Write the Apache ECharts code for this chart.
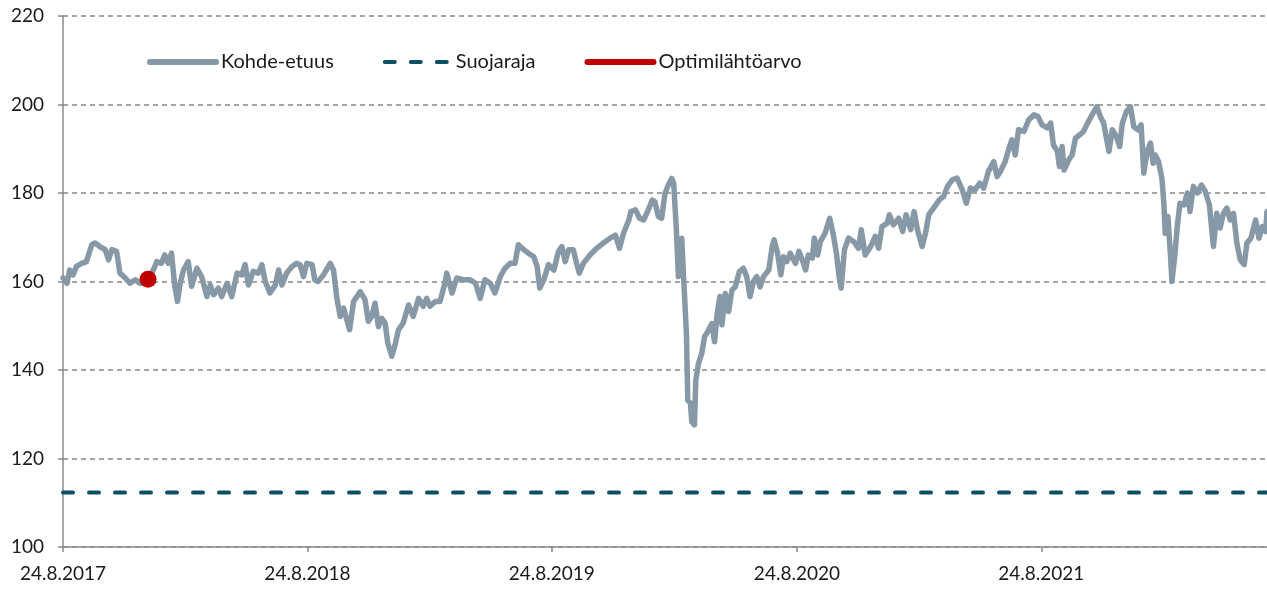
<!DOCTYPE html>
<html>
<head>
<meta charset="utf-8">
<script src="https://cdn.jsdelivr.net/npm/echarts@6/dist/echarts.min.js"></script>
<style>
  html, body { margin: 0; padding: 0; background: #fff; }
  #chart { width: 1267px; height: 591px; }
</style>
</head>
<body>
<div id="chart"></div>
<script>
// päiviä alkupäivästä 24.8.2017
var dayOffsets = [
  0, 6, 10, 15, 20, 28, 35, 43, 48, 55, 63, 68, 73, 80, 85, 93, 100, 108, 115, 127,
  135, 140, 147, 152, 157, 162, 167, 171, 175, 180, 187, 192, 200, 207, 215, 220, 225, 232, 237, 245,
  252, 260, 267, 272, 277, 284, 292, 297, 302, 309, 317, 322, 327, 334, 342, 349, 354, 359, 364, 372,
  376, 381, 389, 399,
  404, 409, 414, 419, 424, 428, 434, 444, 451, 456, 461, 466, 471, 476, 481, 485, 491, 496, 501, 508,
  516, 523, 531, 538, 543, 548, 556, 563, 571, 573, 581, 588, 598, 608, 616, 623, 630, 638, 645, 653,
  660, 668, 675, 680, 688, 695, 703, 708, 712, 718, 725, 733, 740, 745, 750, 755, 762, 767, 771, 777,
  787, 797, 807, 817, 825, 831, 837, 845,
  848, 855, 861, 867, 874, 880, 884, 889, 894, 899, 904, 909, 912, 916, 919, 924, 927, 931, 933, 937,
  939, 943, 945, 949, 954, 958, 963, 969, 973, 977, 981, 984, 989, 994, 999, 1004, 1010, 1016, 1021, 1026,
  1031, 1036, 1041, 1046, 1054, 1059, 1062, 1067, 1072,
  1076, 1081, 1086, 1094, 1099, 1104, 1109, 1113, 1119, 1122, 1127, 1131, 1138, 1145, 1150, 1155, 1159, 1162, 1167, 1173,
  1181, 1188, 1192, 1198, 1206, 1213, 1218, 1223, 1231, 1234, 1240, 1248, 1254, 1259, 1266, 1271, 1276, 1283, 1288, 1293,
  1300, 1309, 1315, 1321, 1328, 1335, 1343, 1349, 1355, 1362, 1369, 1375, 1382, 1390, 1395,
  1400, 1407, 1412, 1417, 1422, 1427, 1435, 1442, 1450, 1456, 1462, 1470, 1475, 1479, 1485, 1488, 1492, 1495, 1502, 1507,
  1512, 1518, 1524, 1530, 1537, 1544, 1549, 1554, 1562, 1567, 1573, 1578, 1582, 1588, 1594, 1599, 1605, 1610, 1614, 1619,
  1624, 1628, 1631, 1636, 1641, 1644, 1646, 1650, 1654, 1656, 1660, 1664, 1668, 1674, 1679, 1683, 1688, 1694, 1700, 1706,
  1712, 1718, 1723, 1728, 1733, 1738, 1743, 1748, 1753, 1758, 1764, 1768, 1774, 1781, 1786, 1791, 1796, 1798
];

var kohdeEtuus = [
  160.8, 159.6, 162.6, 161.5, 163.4, 164.1, 164.5, 168.3, 168.7, 167.9, 167.2, 164.9, 167.2, 166.8, 161.9, 160.8, 159.6, 160.4, 159.6, 160.5,
  162.6, 164.5, 164.1, 166.0, 164.1, 166.4, 158.9, 155.5, 159.6, 162.6, 164.5, 158.9, 163.0, 161.1, 156.6, 159.2, 157.0, 158.5, 156.6, 159.6,
  156.6, 161.9, 161.5, 163.8, 159.2, 162.3, 161.9, 163.8, 160.0, 157.4, 159.2, 162.6, 159.2, 161.9, 163.4, 164.1, 163.8, 161.1, 164.1, 163.8,
  160.4, 160.0, 161.5, 164.1,
  162.6, 156.2, 152.1, 154.0, 151.3, 149.1, 155.5, 157.7, 155.9, 151.0, 152.1, 155.1, 149.8, 151.7, 150.6, 146.1, 143.1, 145.7, 149.1, 150.6,
  154.7, 152.1, 156.2, 154.4, 156.2, 154.4, 155.5, 155.5, 160.0, 161.9, 157.4, 160.8, 160.4, 160.4, 159.6, 156.2, 160.4, 159.6, 157.4, 161.1,
  163.0, 164.1, 164.1, 168.3, 167.2, 166.4, 165.6, 163.4, 158.5, 160.4, 163.8, 162.6, 166.8, 167.9, 164.5, 167.2, 167.2, 164.1, 161.9, 164.1,
  166.0, 167.5, 168.7, 169.8, 170.5, 167.5, 170.9, 173.9,
  175.8, 176.2, 174.3, 173.9, 176.2, 178.4, 178.0, 174.7, 174.3, 179.9, 181.8, 183.3, 182.2, 171.6, 161.1, 169.8, 160.3, 148.3, 133.2, 132.5,
  128.3, 127.6, 137.7, 141.5, 143.8, 147.5, 148.7, 150.5, 146.4, 152.8, 156.6, 150.2, 157.3, 153.2, 158.1, 158.8, 162.2, 163.0, 161.1, 156.6,
  160.0, 161.1, 158.8, 161.1, 162.6, 167.9, 169.4, 166.4, 161.5,
  165.6, 164.5, 166.4, 164.1, 166.8, 164.9, 162.6, 166.0, 165.3, 169.8, 166.0, 169.0, 170.9, 174.3, 170.9, 166.4, 161.1, 158.5, 167.2, 169.8,
  169.0, 167.5, 171.7, 166.0, 167.9, 170.2, 167.5, 172.4, 173.2, 175.1, 172.8, 174.3, 171.3, 175.1, 171.7, 175.8, 171.7, 167.9, 170.9, 175.1,
  176.6, 178.5, 179.2, 181.5, 183.0, 183.4, 180.7, 177.7, 181.1, 180.7, 182.2, 181.1, 184.9, 187.1, 183.7,
  184.9, 187.1, 189.8, 192.0, 188.6, 194.3, 193.9, 196.5, 197.7, 197.3, 195.4, 194.7, 195.8, 190.9, 189.4, 186.0, 190.5, 185.2, 187.5, 188.6,
  192.4, 193.1, 193.9, 195.8, 197.7, 199.5, 197.3, 195.8, 189.4, 194.3, 192.8, 190.5, 195.8, 198.4, 199.5, 195.0, 194.3, 195.4, 184.5, 189.4,
  191.3, 186.7, 188.6, 187.1, 183.4, 177.7, 170.9, 174.7, 165.6, 160.0, 165.3, 172.4, 177.7, 177.3, 180.0, 175.8, 181.5, 180.0, 181.8, 180.3,
  177.3, 167.9, 175.4, 172.1, 175.4, 176.6, 173.9, 175.4, 168.7, 164.9, 163.8, 168.7, 169.8, 173.9, 169.8, 172.4, 171.3, 175.8
];

var suojarajaValue = 112.3;
var optimiDay = 127;
var optimiValue = 160.5;

var tickDays = [0, 365, 730, 1096, 1461];
var tickLabels = ['24.8.2017', '24.8.2018', '24.8.2019', '24.8.2020', '24.8.2021'];
var lastDay = dayOffsets[dayOffsets.length - 1];

var seriesData = dayOffsets.map(function (d, i) { return [d, kohdeEtuus[i]]; });

var chart = echarts.init(document.getElementById('chart'), null, { renderer: 'canvas' });
var font = 'Lato, "Noto Sans", sans-serif';
var axisGray = '#8a8a8a';

chart.setOption({
  animation: false,
  backgroundColor: '#ffffff',
  grid: { left: 63, right: 0, top: 16, bottom: 44, outerBoundsMode: 'none' },
  legend: {
    left: 147,
    top: 52,
    padding: 0,
    orient: 'horizontal',
    itemWidth: 66,
    itemHeight: 18,
    itemGap: 49,
    itemStyle: { opacity: 0 },
    textStyle: { fontFamily: font, fontSize: 20, color: '#1a1a1a' },
    data: [
      { name: 'Kohde-etuus', lineStyle: { width: 6, color: '#8799a6', cap: 'round' } },
      { name: 'Suojaraja', lineStyle: { width: 4, color: '#0d4f63', type: [10, 16], cap: 'round' } },
      { name: 'Optimilähtöarvo', lineStyle: { width: 6, color: '#c00000', cap: 'round' } }
    ]
  },
  xAxis: {
    type: 'value',
    min: 0,
    max: lastDay,
    axisLine: { show: true, lineStyle: { color: axisGray, width: 1.5 } },
    axisTick: { show: true, length: 5, customValues: tickDays, lineStyle: { color: axisGray, width: 1.5 } },
    axisLabel: {
      customValues: tickDays,
      margin: 17,
      fontFamily: font,
      fontSize: 19,
      color: '#1a1a1a',
      formatter: function (v) {
        var i = tickDays.indexOf(v);
        return i >= 0 ? tickLabels[i] : '';
      }
    },
    splitLine: { show: false }
  },
  yAxis: {
    type: 'value',
    min: 100,
    max: 220,
    interval: 20,
    axisLine: { show: true, lineStyle: { color: axisGray, width: 1.5 } },
    axisTick: { show: true, length: 5, lineStyle: { color: axisGray, width: 1.5 } },
    axisLabel: { margin: 19, fontFamily: font, fontSize: 19, color: '#1a1a1a' },
    splitLine: { show: true, lineStyle: { color: '#888888', width: 1.5, type: [5, 4] } }
  },
  series: [
    {
      name: 'Kohde-etuus',
      type: 'line',
      data: seriesData,
      symbol: 'none',
      color: '#8799a6',
      lineStyle: { color: '#8799a6', width: 5.5, join: 'round', cap: 'round' },
      z: 2
    },
    {
      name: 'Suojaraja',
      type: 'line',
      data: [[0, suojarajaValue], [lastDay, suojarajaValue]],
      symbol: 'none',
      color: '#0d4f63',
      lineStyle: { color: '#0d4f63', width: 4, type: [10, 16], cap: 'round' },
      z: 2
    },
    {
      name: 'Optimilähtöarvo',
      type: 'line',
      data: [[optimiDay, optimiValue]],
      symbol: 'circle',
      symbolSize: 17,
      showSymbol: true,
      color: '#c00000',
      itemStyle: { color: '#c00000' },
      lineStyle: { color: '#c00000', width: 6, cap: 'round' },
      z: 3
    }
  ]
});
</script>
</body>
</html>
